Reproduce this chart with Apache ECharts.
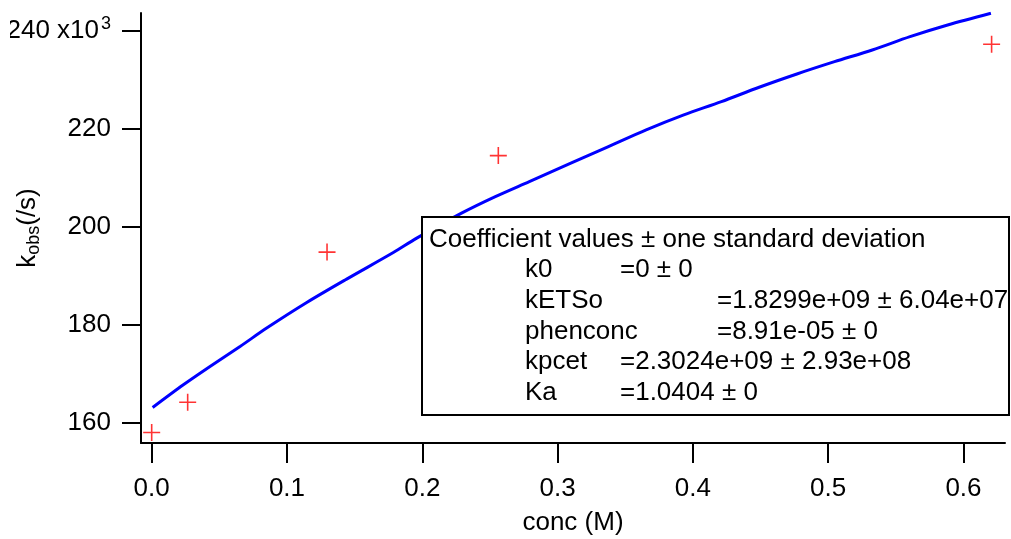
<!DOCTYPE html>
<html>
<head>
<meta charset="utf-8">
<script src="https://cdn.jsdelivr.net/npm/echarts@6/dist/echarts.min.js"></script>
<style>html,body{margin:0;padding:0;background:#fff}#c{width:1011px;height:539px}</style>
</head>
<body>
<div id="c"></div>
<script>
// measured data points (conc in M, kobs in 10^3 /s)
var pointConc = [0.0, 0.0266, 0.1296, 0.2562, 0.6208];
var pointKobs = [157.98, 164.14, 194.80, 214.51, 237.24];

// fitted curve
var fitConc = [0.0007, 0.0234, 0.0431, 0.0653, 0.0850, 0.1146, 0.1441, 0.1786, 0.1959, 0.2290, 0.2540, 0.2791, 0.3098, 0.3376, 0.3655, 0.3933, 0.4211, 0.4490, 0.4769, 0.5047, 0.5326, 0.5605, 0.5883, 0.6203];
var fitKobs = [163.08, 167.71, 171.45, 175.53, 179.29, 184.51, 189.29, 194.71, 197.65, 202.76, 206.14, 209.20, 212.96, 216.35, 219.76, 222.82, 225.53, 228.47, 231.18, 233.69, 236.08, 238.80, 241.18, 243.57];

var xTicks = [0.0, 0.1, 0.2, 0.3, 0.4, 0.5, 0.6];
var yTicks = [160, 180, 200, 220, 240];

var boxTitle = 'Coefficient values \u00b1 one standard deviation';
var coefNames = ['k0', 'kETSo', 'phenconc', 'kpcet', 'Ka'];
var coefValues = ['=0 \u00b1 0', '=1.8299e+09 \u00b1 6.04e+07', '=8.91e-05 \u00b1 0', '=2.3024e+09 \u00b1 2.93e+08', '=1.0404 \u00b1 0'];
var coefTab = [0, 1, 1, 0, 0];

var FONT = "'Liberation Sans', Arial, sans-serif";

function zip(a, b) { return a.map(function (v, i) { return [v, b[i]]; }); }

var chart = echarts.init(document.getElementById('c'), null, { renderer: 'canvas' });

var graphics = [];
var boxX = 422, boxY = 217, boxW = 587, boxH = 198;
graphics.push({
  type: 'rect', z: 100,
  shape: { x: boxX, y: boxY, width: boxW, height: boxH },
  style: { fill: '#fff', stroke: '#000', lineWidth: 2 }
});
// the reference image is cropped at the left, cutting into the first label
graphics.push({
  type: 'rect', z: 100,
  shape: { x: 0, y: 12, width: 10, height: 38 },
  style: { fill: '#fff' }
});
var fs = 25, sx = 1.04, pitch = 30.6, mid0 = 240;
function addText(str, x, yMid) {
  graphics.push({
    type: 'text', z: 101, x: x, y: yMid, scaleX: sx, scaleY: 1,
    style: { text: str, x: 0, y: 0, font: fs + 'px ' + FONT, fill: '#000',
             textAlign: 'left', align: 'left', textVerticalAlign: 'middle', verticalAlign: 'middle' }
  });
}
addText(boxTitle, 429, mid0);
var tabX = [620, 717];
coefNames.forEach(function (n, i) {
  addText(n, 525, mid0 + pitch * (i + 1));
  addText(coefValues[i], tabX[coefTab[i]], mid0 + pitch * (i + 1));
});

var option = {
  animation: false,
  backgroundColor: '#fff',
  grid: { left: 141, right: 6, top: 13, bottom: 96, containLabel: false, outerBoundsMode: 'none' },
  xAxis: {
    type: 'value', min: -0.0079, max: 0.6307,
    name: 'conc (M)', nameLocation: 'middle', nameGap: 67, nameMoveOverlap: false,
    nameTextStyle: { fontFamily: FONT, fontSize: 26, color: '#000' },
    axisLine: { show: true, onZero: false, lineStyle: { color: '#000', width: 2 } },
    axisTick: { show: true, inside: false, length: 20, lineStyle: { color: '#000', width: 2 }, customValues: xTicks },
    axisLabel: { show: true, margin: 33, fontFamily: FONT, fontSize: 26, color: '#000', customValues: xTicks,
                 formatter: function (v) { return v.toFixed(1); } },
    splitLine: { show: false }
  },
  yAxis: {
    type: 'value', min: 155.82, max: 243.63,
    name: 'k{sub|obs}(/s)', nameLocation: 'middle', nameGap: 98, nameRotate: 90, nameMoveOverlap: false,
    nameTextStyle: { fontFamily: FONT, fontSize: 26, color: '#000',
      rich: { sub: { fontFamily: FONT, fontSize: 18, color: '#000', padding: [12, 0, 0, 0] } } },
    axisLine: { show: true, onZero: false, lineStyle: { color: '#000', width: 2 } },
    axisTick: { show: true, inside: false, length: 19, lineStyle: { color: '#000', width: 2 }, customValues: yTicks },
    axisLabel: { show: true, margin: 30, fontFamily: FONT, fontSize: 26, color: '#000', customValues: yTicks,
      formatter: function (v) { return v === 240 ? '240 x10{sup|3}' : String(v); },
      rich: { sup: { fontFamily: FONT, fontSize: 18, color: '#000', padding: [0, 0, 14, 2] } } },
    splitLine: { show: false }
  },
  series: [
    {
      type: 'line', data: zip(fitConc, fitKobs), showSymbol: false, smooth: 0.3,
      lineStyle: { color: '#0000ff', width: 3 }, z: 2
    },
    {
      type: 'scatter', data: zip(pointConc, pointKobs),
      symbol: 'path://M7.25,0H8.75V16H7.25ZM0,7.25H16V8.75H0Z', symbolSize: 17,
      itemStyle: { color: '#ff0000' }, z: 3
    }
  ],
  graphic: graphics
};
chart.setOption(option);
</script>
</body>
</html>
